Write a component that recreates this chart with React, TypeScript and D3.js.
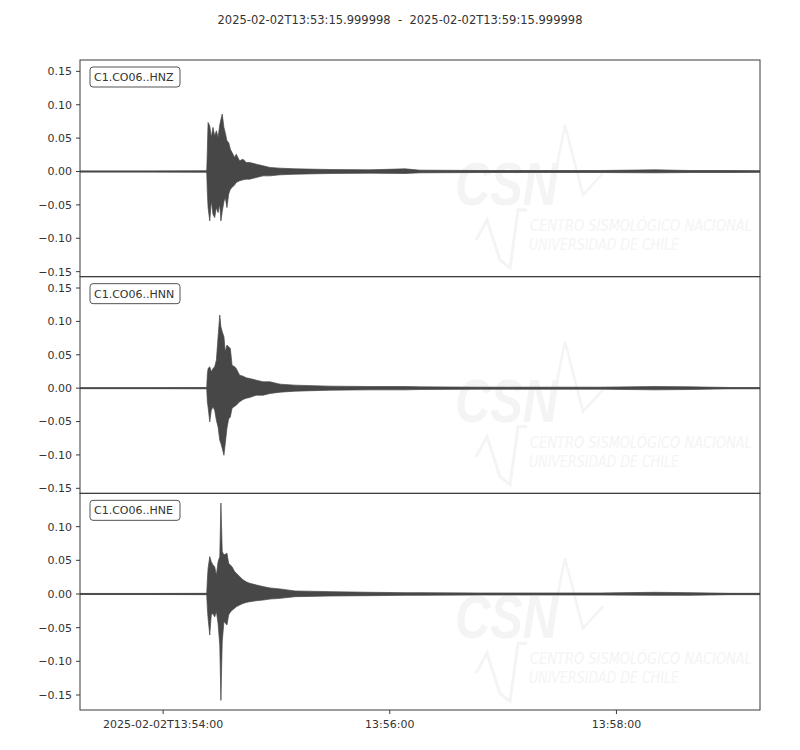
import * as d3 from "d3";
import React from "react";

// Window of the record (UTC)
const START = new Date(Date.UTC(2025, 1, 2, 13, 53, 16));
const END = new Date(Date.UTC(2025, 1, 2, 13, 59, 16));
const TITLE = "2025-02-02T13:53:15.999998  -  2025-02-02T13:59:15.999998";

// Trace ids, one per panel
const channels = ["C1.CO06..HNZ", "C1.CO06..HNN", "C1.CO06..HNE"];

// Envelope sample times, seconds after 13:53:16
const seconds = [
  0, 37.1, 67.1, 67.4, 67.8, 68.7, 69.5, 70.4, 71.3, 72.2,
  73.1, 74.0, 74.6, 75.3, 76.2, 76.9, 77.8, 78.7, 79.6, 80.5,
  81.9, 82.7, 84.5, 86.3, 88.0, 89.8, 93.3, 96.9, 100.6, 105.9,
  113.8, 132.4, 153.5, 172.1, 180, 211.8, 243.5, 275.3, 304.4, 322.9,
  344.1, 360,
];

// Upper / lower envelope of each trace
const hnzUpper = [
  0.0008, 0.0008, 0.001, 0.03, 0.0735, 0.068, 0.051, 0.066, 0.053, 0.061,
  0.051, 0.07, 0.078, 0.086, 0.066, 0.058, 0.046, 0.0435, 0.0335, 0.0285,
  0.021, 0.026, 0.016, 0.0185, 0.0135, 0.0135, 0.011, 0.0085, 0.006, 0.005,
  0.004, 0.003, 0.0025, 0.004, 0.002, 0.0015, 0.0015, 0.0015, 0.0025, 0.0015,
  0.0015, 0.0012,
];
const hnzLower = [
  -0.0008, -0.0008, -0.001, -0.03, -0.054, -0.074, -0.044, -0.064, -0.069, -0.054,
  -0.0615, -0.049, -0.074, -0.06, -0.045, -0.039, -0.054, -0.034, -0.0265, -0.024,
  -0.02, -0.0165, -0.014, -0.0125, -0.0115, -0.0115, -0.009, -0.0065, -0.0065, -0.005,
  -0.004, -0.003, -0.0025, -0.003, -0.002, -0.0015, -0.0015, -0.0015, -0.002, -0.0015,
  -0.0015, -0.0012,
];
const hnnUpper = [
  0.0008, 0.0008, 0.001, 0.02, 0.0295, 0.032, 0.0245, 0.0295, 0.032, 0.042,
  0.077, 0.1095, 0.092, 0.0845, 0.077, 0.0545, 0.0645, 0.062, 0.0595, 0.0345,
  0.032, 0.0295, 0.0195, 0.018, 0.0155, 0.0145, 0.012, 0.0095, 0.0095, 0.006,
  0.0045, 0.003, 0.0025, 0.0025, 0.002, 0.0015, 0.0015, 0.0015, 0.0025, 0.002,
  0.001, 0.001,
];
const hnnLower = [
  -0.0008, -0.0008, -0.001, -0.02, -0.028, -0.0505, -0.033, -0.028, -0.033, -0.048,
  -0.058, -0.078, -0.083, -0.09, -0.1005, -0.083, -0.06, -0.046, -0.043, -0.03,
  -0.027, -0.0255, -0.0205, -0.017, -0.015, -0.014, -0.0105, -0.0105, -0.008, -0.006,
  -0.0045, -0.003, -0.0025, -0.0025, -0.002, -0.0015, -0.0015, -0.0015, -0.0025, -0.002,
  -0.001, -0.001,
];
const hneUpper = [
  0.0008, 0.0008, 0.001, 0.02, 0.038, 0.0555, 0.048, 0.043, 0.0405, 0.028,
  0.048, 0.0555, 0.135, 0.063, 0.058, 0.059, 0.0605, 0.0455, 0.043, 0.0405,
  0.033, 0.031, 0.026, 0.021, 0.018, 0.016, 0.0135, 0.011, 0.009, 0.0075,
  0.0045, 0.0035, 0.0025, 0.002, 0.002, 0.0015, 0.0015, 0.0015, 0.0025, 0.002,
  0.001, 0.001,
];
const hneLower = [
  -0.0008, -0.0008, -0.001, -0.02, -0.036, -0.061, -0.031, -0.029, -0.034, -0.026,
  -0.044, -0.076, -0.158, -0.071, -0.041, -0.043, -0.046, -0.031, -0.027, -0.024,
  -0.021, -0.019, -0.0165, -0.014, -0.0125, -0.0115, -0.01, -0.009, -0.0075, -0.0065,
  -0.004, -0.003, -0.0025, -0.002, -0.002, -0.0015, -0.0015, -0.0015, -0.002, -0.002,
  -0.001, -0.001,
];
const uppers = [hnzUpper, hnnUpper, hneUpper];
const lowers = [hnzLower, hnnLower, hneLower];

// Axis ticks
const yTicks = [-0.15, -0.1, -0.05, 0, 0.05, 0.1, 0.15];
const xTickTimes = ["13:54:00", "13:56:00", "13:58:00"];

// y limits of each panel
const yLimits: [number, number][] = [
  [-0.1575, 0.167],
  [-0.1575, 0.167],
  [-0.1723, 0.1495],
];

const W = 800,
  H = 750;
const margin = { top: 60, right: 40, bottom: 40, left: 80 };
const FONT = "DejaVu Sans, sans-serif";
const TEXT = "#333333";
const TRACE = "#474747";
const FRAME = "#3a3a3a";
const WATER = "#f4f4f4";

const App: React.FC = () => {
  const panelH = (H - margin.top - margin.bottom) / channels.length;

  const x = d3
    .scaleUtc()
    .domain([START, END])
    .range([margin.left, W - margin.right]);

  const toDate = (s: number) => new Date(START.getTime() + s * 1000);
  const fmtY = (v: number) => d3.format(".2f")(v).replace("-", "\u2212");

  return (
    <svg
      width={W}
      height={H}
      style={{ position: "absolute", left: 0, top: 0, background: "#fff" }}
      fontFamily={FONT}
    >
      <text
        x={W / 2}
        y={24}
        textAnchor="middle"
        fontSize={11.5}
        fill={TEXT}
        style={{ whiteSpace: "pre" }}
      >
        {TITLE}
      </text>

      {channels.map((ch, i) => {
        const top = margin.top + i * panelH;
        const bottom = top + panelH;
        const y = d3.scaleLinear().domain(yLimits[i]).range([bottom, top]);
        const rows = seconds.map((s, k) => ({
          t: toDate(s),
          hi: uppers[i][k],
          lo: lowers[i][k],
        }));
        const area = d3
          .area<{ t: Date; hi: number; lo: number }>()
          .x((d) => x(d.t))
          .y0((d) => y(d.lo))
          .y1((d) => y(d.hi));
        const ticks = yTicks.filter(
          (v) => v >= yLimits[i][0] && v <= yLimits[i][1]
        );
        const left = margin.left;
        const right = W - margin.right;
        return (
          <g key={ch}>
            <defs>
              <clipPath id={`clip-${i}`}>
                <rect x={left} y={top} width={right - left} height={panelH} />
              </clipPath>
            </defs>
            {/* faint CSN watermark */}
            <g fill={WATER} stroke="none">
              <text
                x={455}
                y={top + 145}
                fontSize={62}
                fontWeight="bold"
                fontStyle="italic"
                textLength={103}
                lengthAdjust="spacingAndGlyphs"
                fontFamily="Liberation Sans, sans-serif"
              >
                CSN
              </text>
              <path
                d={`M${550},${top + 140} L${565},${top + 65} L${583},${top + 135} L${603},${top + 113}`}
                fill="none"
                stroke={WATER}
                strokeWidth={2.5}
              />
              <path
                d={`M${476},${top + 180} L${487},${top + 160} L${500},${top + 200} L${510},${top + 208} L${518},${top + 150} L${527},${top + 150}`}
                fill="none"
                stroke={WATER}
                strokeWidth={3}
              />
              <text
                x={530}
                y={top + 171}
                fontSize={15}
                fontStyle="italic"
                textLength={222}
                lengthAdjust="spacingAndGlyphs"
                fontFamily="DejaVu Sans Condensed, DejaVu Sans, sans-serif"
              >
                CENTRO SISMOLÓGICO NACIONAL
              </text>
              <text
                x={529}
                y={top + 190}
                fontSize={15}
                fontStyle="italic"
                textLength={150}
                lengthAdjust="spacingAndGlyphs"
                fontFamily="DejaVu Sans Condensed, DejaVu Sans, sans-serif"
              >
                UNIVERSIDAD DE CHILE
              </text>
            </g>

            {/* baseline + waveform envelope */}
            <g clipPath={`url(#clip-${i})`}>
              <line
                x1={left}
                x2={right}
                y1={y(0)}
                y2={y(0)}
                stroke={TRACE}
                strokeWidth={1.3}
              />
              <path
                d={area(rows) ?? ""}
                fill={TRACE}
                stroke={TRACE}
                strokeWidth={0.7}
                strokeLinejoin="miter"
              />
            </g>

            {/* frame */}
            <rect
              x={left}
              y={top}
              width={right - left}
              height={panelH}
              fill="none"
              stroke={FRAME}
              strokeWidth={1}
            />

            {/* y axis */}
            {ticks.map((v) => (
              <g key={v}>
                <line
                  x1={left - 4}
                  x2={left}
                  y1={y(v)}
                  y2={y(v)}
                  stroke={FRAME}
                />
                <text
                  x={left - 8}
                  y={y(v)}
                  dy="0.35em"
                  textAnchor="end"
                  fontSize={11}
                  fill={TEXT}
                >
                  {fmtY(v)}
                </text>
              </g>
            ))}

            {/* channel label */}
            <rect
              x={left + 10}
              y={top + 7}
              width={90}
              height={20}
              rx={3}
              fill="#fff"
              stroke="#555"
              strokeWidth={1}
            />
            <text x={left + 14} y={top + 21} fontSize={11} fill={TEXT}>
              {ch}
            </text>

            {/* x axis on the last panel */}
            {i === channels.length - 1 &&
              xTickTimes.map((s, k) => {
                const [hh, mm, ss] = s.split(":").map(Number);
                const t = new Date(Date.UTC(2025, 1, 2, hh, mm, ss));
                const label = k === 0 ? `2025-02-02T${s}` : s;
                return (
                  <g key={s}>
                    <line
                      x1={x(t)}
                      x2={x(t)}
                      y1={bottom}
                      y2={bottom + 4}
                      stroke={FRAME}
                    />
                    <text
                      x={x(t)}
                      y={bottom + 18}
                      textAnchor="middle"
                      fontSize={11}
                      fill={TEXT}
                    >
                      {label}
                    </text>
                  </g>
                );
              })}
          </g>
        );
      })}
    </svg>
  );
};

export default App;
